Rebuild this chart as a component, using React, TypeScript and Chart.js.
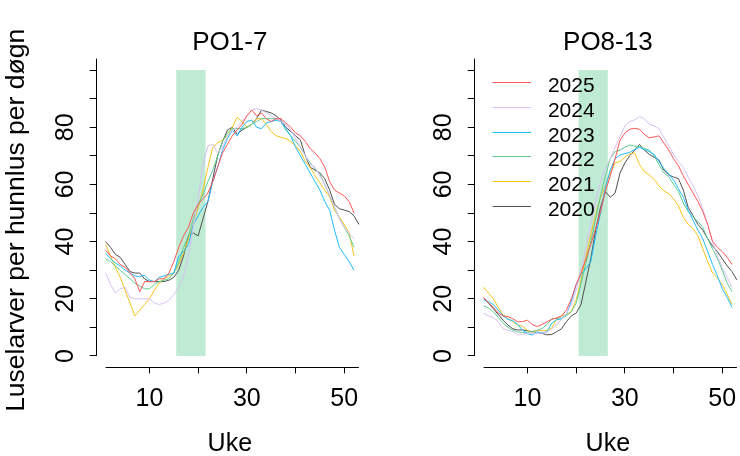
import React, { useEffect, useRef } from 'react';
import { Chart, registerables } from 'chart.js';
Chart.register(...registerables);

const FONT = '"Liberation Sans", Arial, sans-serif';

const weeks = [1, 2, 3, 4, 5, 6, 7, 8, 9, 10, 11, 12, 13, 14, 15, 16, 17, 18, 19, 20, 21, 22, 23, 24, 25, 26, 27, 28, 29, 30, 31, 32, 33, 34, 35, 36, 37, 38, 39, 40, 41, 42, 43, 44, 45, 46, 47, 48, 49, 50, 51, 52, 53];

const years = ['2025', '2024', '2023', '2022', '2021', '2020'];
const yearColors = ['#FF5555', '#D8C0F3', '#1EBBFF', '#5DCB8F', '#F8C21A', '#505050'];

// PO1-7
const po17_2025 = [37, 35, 34, 32, 31, 29, 27, 22.5, 26, 26, 26, 27, 27, 29, 33, 38, 42, 45, 50, 53, 55, 57, 61, 66, 71, 74, 77, 79, 81, 84, 86, 84, 85, 83, 82, 83, 83, 81.5, 80, 78, 77, 75, 72.5, 71, 69, 66, 61, 58, 57, 56, 54, 50];
const po17_2024 = [29, 25, 22, 23.5, 24, 20.5, 20, 20, 20, 20, 18.5, 18, 18.5, 19.5, 21.5, 24, 28, 35, 45, 55, 67, 73.5, 74, 71, 73, 77, 79, 80, 82, 84, 86, 86.5, 86, 85, 84, 83, 82, 81, 79, 76, 73, 70, 67, 66, 63, 60, 56, 52, 48, 45, 43, 41];
const po17_2023 = [36, 34, 32.5, 31.5, 30, 29, 28, 27.7, 28.3, 26.5, 26, 27.5, 28, 28.5, 29, 35, 36.5, 39, 46, 49, 52, 54, 61, 66, 72, 76, 79, 77, 80, 82, 82.5, 80, 79.5, 81.5, 82, 82.5, 82, 79.5, 77, 73, 70, 67, 64, 61, 58, 54, 51, 44, 38, 35.5, 33, 30];
const po17_2022 = [34, 33, 31.5, 30, 28.5, 27, 25.5, 24.5, 23.5, 23.5, 25, 26, 26.5, 27, 29, 33, 38, 42, 48, 53, 56.5, 61, 65, 70, 75, 78, 79.5, 79.5, 79.5, 80, 81, 82, 83, 83, 83, 83, 82, 79, 77, 75, 73, 70, 67.5, 65.5, 63.5, 60, 56, 52, 48, 45, 42, 38];
const po17_2021 = [39, 35, 31, 27.5, 23, 18.5, 14, 16, 18, 20, 23, 25.5, 27, 28, 29, 32, 36, 41, 46, 52, 58, 66, 73, 74.5, 75.5, 77, 80, 83.5, 82, 80, 81, 83, 83, 81, 78.5, 77, 76.5, 76, 75, 73.5, 71.5, 68, 66, 63, 60.5, 58, 55.5, 51, 48.5, 46, 43, 35];
const po17_2020 = [40, 38, 35.5, 34.5, 32, 29.5, 29, 29, 27, 26, 26, 26, 26, 26.5, 27.5, 30, 35, 42, 43, 42, 48, 54, 62, 70, 75, 79, 80, 77.5, 79, 80, 81, 83, 86, 85.5, 85, 84, 82.5, 80, 78.5, 77, 75.5, 70, 66, 65, 64, 62, 58, 53, 51.5, 51, 50.5, 49, 46];

// PO8-13
const po813_2025 = [20.5, 18.5, 17, 15, 14, 13.8, 13, 12, 12, 12.5, 11, 10.3, 11, 12, 12.8, 13.3, 14, 16, 20, 25, 29, 34, 39, 44.5, 50.5, 57.5, 63, 69, 75.5, 78, 79.3, 79.6, 79.3, 77.5, 76.3, 76.6, 77, 74.5, 72, 69, 66.5, 63, 60, 57, 54, 50.5, 46, 40, 38, 36.5, 34.5, 32];
const po813_2024 = [15, 14, 13.5, 12, 9.5, 9, 8.5, 7.3, 7.6, 8, 8, 8, 8, 8.3, 9.5, 11, 12.8, 14.8, 18, 23, 30, 38, 46, 54, 61, 65.5, 69, 73, 76.7, 80.5, 82, 82.5, 83.7, 83, 81, 80.5, 79.5, 76.5, 73.5, 70.5, 68, 66, 62.5, 59.5, 56, 51.5, 46, 40, 35, 31, 27.5, 24];
const po813_2023 = [19.6, 19, 18, 16, 14, 12.8, 12.3, 11, 9, 7.8, 7.3, 8.4, 8, 8.5, 11.5, 12.7, 13, 14.5, 19, 25, 28.5, 30.5, 33, 42, 50, 59, 65, 69, 70.3, 70.8, 71.2, 72.2, 73, 72.2, 71.5, 70.5, 68, 65.5, 63.8, 61.5, 58.5, 55.5, 51, 47.5, 44, 41, 36.5, 32, 28, 23.5, 20.5, 17];
const po813_2022 = [17.5, 16.8, 15.5, 13.5, 11.5, 10, 9, 8.4, 8.2, 8.3, 8.5, 9, 9.6, 11, 13, 13.2, 13.3, 14, 15.5, 18.4, 25.4, 32.4, 40, 48, 56, 63, 69, 71.5, 72, 73, 73.8, 73.4, 73.2, 72.6, 72, 70, 67, 64, 62.7, 60, 57.5, 53.5, 50.5, 48.7, 47, 45, 41, 37.5, 34, 30, 25.5, 22.5];
const po813_2021 = [24, 22, 20, 17, 14.3, 13, 12, 10.8, 10.3, 9, 8, 9, 8.8, 9, 9.7, 13, 14, 14.5, 15.5, 19.6, 26.6, 34.7, 42.5, 49.5, 55.5, 59.5, 64, 67.5, 68, 69.5, 70.7, 71, 67, 64.5, 63.3, 61.8, 59.5, 57.7, 56.8, 55, 52.5, 48.5, 46, 44.6, 42, 37.5, 33, 29, 27.3, 25, 21.5, 18];
const po813_2020 = [20.2, 18.5, 16.5, 14.5, 12.5, 10.8, 9.5, 9.1, 9.1, 8.8, 8.5, 8.2, 7.9, 7.4, 7.5, 8.5, 9.5, 12, 14, 15, 18, 26, 34, 44, 52, 57.5, 55.5, 57, 64, 67.5, 70, 72, 74, 72, 70.5, 69.5, 68.5, 65, 63.3, 62.6, 62, 58, 52, 49, 46, 44, 41, 38.5, 36.5, 34, 31.5, 29.5, 26.6];

const po17Series = [po17_2025, po17_2024, po17_2023, po17_2022, po17_2021, po17_2020];
const po813Series = [po813_2025, po813_2024, po813_2023, po813_2022, po813_2021, po813_2020];

const po17Band = [15.5, 21.5];
const po813Band = [20.5, 26.5];
const bandRange = [0, 100];

const xTicks = [10, 20, 30, 40, 50];
const xTickLabels = [10, 30, 50];
const yTicks = [0, 10, 20, 30, 40, 50, 60, 70, 80, 90, 100];
const yTickLabels = [0, 20, 40, 60, 80];
const xAxisExtent = [1, 53];
const yAxisBottom = 0;

const bandPlugin = {
  id: 'band',
  beforeDatasetsDraw(chart: any, _args: any, opts: any) {
    const { ctx } = chart;
    const xs = chart.scales.x;
    const ys = chart.scales.y;
    const x0 = xs.getPixelForValue(opts.range[0]);
    const x1 = xs.getPixelForValue(opts.range[1]);
    const y0 = ys.getPixelForValue(bandRange[0]);
    const y1 = ys.getPixelForValue(bandRange[1]);
    ctx.save();
    ctx.fillStyle = '#BFEAD3';
    ctx.fillRect(x0, y1, x1 - x0, y0 - y1);
    ctx.restore();
  },
};

const axisLinePlugin = {
  id: 'axisLines',
  afterDraw(chart: any) {
    const { ctx, chartArea } = chart;
    const xs = chart.scales.x;
    const ys = chart.scales.y;
    ctx.save();
    ctx.strokeStyle = '#000';
    ctx.lineWidth = 1;
    const by = Math.round(chartArea.bottom) + 0.5;
    ctx.beginPath();
    ctx.moveTo(xs.getPixelForValue(xAxisExtent[0]), by);
    ctx.lineTo(xs.getPixelForValue(xAxisExtent[1]), by);
    ctx.stroke();
    const lx = Math.round(chartArea.left) + 0.5;
    ctx.beginPath();
    ctx.moveTo(lx, ys.getPixelForValue(yAxisBottom));
    ctx.lineTo(lx, chartArea.top);
    ctx.stroke();
    ctx.restore();
  },
};

const legendPlugin = {
  id: 'insideLegend',
  afterDatasetsDraw(chart: any, _args: any, opts: any) {
    if (!opts.show) return;
    const { ctx, chartArea } = chart;
    ctx.save();
    chart.data.datasets.forEach((ds: any, i: number) => {
      const y = Math.round(chartArea.top + 23.7 + i * 24.68) + 0.5;
      ctx.strokeStyle = ds.borderColor;
      ctx.lineWidth = 1;
      ctx.beginPath();
      ctx.moveTo(chartArea.left + 19, y);
      ctx.lineTo(chartArea.left + 57.3, y);
      ctx.stroke();
      ctx.fillStyle = '#000';
      ctx.font = `21px ${FONT}`;
      ctx.textBaseline = 'alphabetic';
      ctx.textAlign = 'left';
      ctx.fillText(ds.label, chartArea.left + 74.2, y + 9.5);
    });
    ctx.restore();
  },
};

function makeChart(canvas: HTMLCanvasElement, title: string, series: number[][], band: number[], showYTitle: boolean, showLegend: boolean) {
  const datasets = series.map((vals, i) => ({
    label: years[i],
    data: vals.map((v, j) => ({ x: weeks[j], y: v })),
    borderColor: yearColors[i],
    borderWidth: 1,
    pointRadius: 0,
    fill: false,
    tension: 0,
  }));
  const grid = { display: true, drawOnChartArea: false, drawTicks: true, tickLength: 6, color: '#000', lineWidth: 1 };
  return new Chart(canvas, {
    type: 'line',
    data: { datasets },
    plugins: [bandPlugin, axisLinePlugin, legendPlugin],
    options: {
      animation: false,
      responsive: false,
      maintainAspectRatio: false,
      devicePixelRatio: 1,
      layout: { padding: { top: 0, left: 0, right: 14, bottom: 0 } },
      plugins: {
        legend: { display: false },
        tooltip: { enabled: false },
        title: {
          display: true,
          text: title,
          fullSize: false,
          color: '#000',
          font: { family: FONT, size: 26, weight: 'normal', lineHeight: 1.2 },
          padding: { top: 27.1, bottom: 0.3 },
        },
        band: { range: band },
        insideLegend: { show: showLegend },
      } as any,
      scales: {
        x: {
          type: 'linear',
          min: -1.04,
          max: 54.05,
          afterFit: (s: any) => { s.height = 88.6; },
          afterBuildTicks: (s: any) => { s.ticks = xTicks.map((v) => ({ value: v })); },
          grid,
          border: { display: false },
          ticks: {
            autoSkip: false,
            maxRotation: 0,
            padding: 11,
            color: '#000',
            font: { family: FONT, size: 25 },
            callback: (v: any) => (xTickLabels.includes(Number(v)) ? String(v) : ''),
          },
          title: {
            display: true,
            text: 'Uke',
            color: '#000',
            font: { family: FONT, size: 25, lineHeight: 0.8 },
            padding: { top: 0, bottom: 1.4 },
          },
        },
        y: {
          type: 'linear',
          min: -4,
          max: 104,
          afterFit: (s: any) => { s.width = 95.7; },
          afterBuildTicks: (s: any) => { s.ticks = yTicks.map((v) => ({ value: v })); },
          grid,
          border: { display: false },
          ticks: {
            autoSkip: false,
            minRotation: 90,
            maxRotation: 90,
            crossAlign: 'center',
            padding: 10,
            color: '#000',
            font: { family: FONT, size: 25 },
            callback: (v: any) => (yTickLabels.includes(Number(v)) ? String(v) : ''),
          },
          title: {
            display: showYTitle,
            text: 'Luselarver per hunnlus per døgn\u00A0\u00A0',
            color: '#000',
            font: { family: FONT, size: 26.5, lineHeight: 1 },
            padding: { top: 3, bottom: 0 },
          },
        },
      },
    } as any,
  });
}

export default function App() {
  const leftRef = useRef<HTMLCanvasElement>(null);
  const rightRef = useRef<HTMLCanvasElement>(null);
  useEffect(() => {
    const a = makeChart(leftRef.current!, 'PO1-7', po17Series, po17Band, true, false);
    const b = makeChart(rightRef.current!, 'PO8-13', po813Series, po813Band, false, true);
    return () => { a.destroy(); b.destroy(); };
  }, []);
  return (
    <div style={{ position: 'fixed', left: 0, top: 0, width: 740, height: 456, overflow: 'hidden', background: '#fff' }}>
      <div style={{ position: 'absolute', left: 0, top: 0, width: 378, height: 456 }}>
        <canvas ref={leftRef} width={378} height={456} style={{ display: 'block' }} />
      </div>
      <div style={{ position: 'absolute', left: 378, top: 0, width: 378, height: 456 }}>
        <canvas ref={rightRef} width={378} height={456} style={{ display: 'block' }} />
      </div>
    </div>
  );
}
